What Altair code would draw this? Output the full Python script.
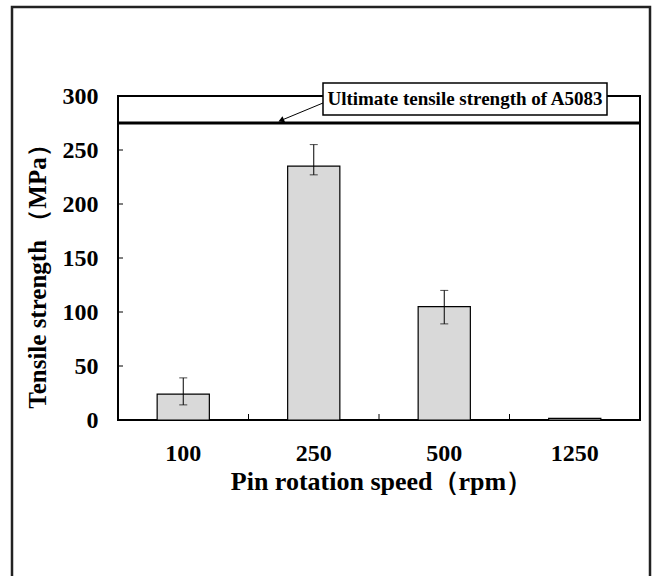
import altair as alt
import pandas as pd

# ---- data ----
speeds = ["100", "250", "500", "1250"]
strength = [24, 235, 105, 1.5]
err_low = [14, 227, 89, 1.5]
err_high = [39, 255, 120, 1.5]
uts_value = [275]
y_ticks = [0, 50, 100, 150, 200, 250, 300]
annotation_text = ["Ultimate tensile strength of A5083"]

df = pd.DataFrame({"speed": speeds, "strength": strength,
                   "lo": err_low, "hi": err_high})
df_err = df[df["hi"] > df["lo"]]
uts_df = pd.DataFrame({"uts": uts_value})
tick_df = pd.DataFrame({"t": y_ticks[1:-1]})
xb_df = pd.DataFrame({"speed": speeds[1:]})   # inner tick left of each category
ann_df = pd.DataFrame({"label": annotation_text})

W, H = 522, 324
STEP = W / 4.0
FONT = "Liberation Serif"

xscale = alt.Scale(domain=speeds, paddingInner=0.6, paddingOuter=0.3)
yscale = alt.Scale(domain=[0, 300], nice=False, zero=True)

x_axis = alt.Axis(orient="bottom", title="Pin rotation speed（rpm）",
                  labelAngle=0, ticks=False, domain=False,
                  labelFont=FONT, labelFontSize=24, labelFontWeight="bold",
                  labelColor="black", labelBaseline="alphabetic",
                  labelPadding=40,
                  titleFont=FONT, titleFontSize=26, titleFontWeight="bold",
                  titleColor="black", titleX=263, titleY=69,
                  titleBaseline="alphabetic", titleAlign="center")
x_main = alt.X("speed:N", scale=xscale, sort=speeds, axis=x_axis)

y_axis = alt.Axis(values=y_ticks, ticks=False, domain=False, grid=False,
                  title="Tensile strength （MPa）",
                  labelFont=FONT, labelFontSize=24, labelFontWeight="bold",
                  labelColor="black", labelPadding=20,
                  titleFont=FONT, titleFontSize=25, titleFontWeight="bold",
                  titleColor="black", titleX=-73, titleY=174,
                  titleAngle=270, titleBaseline="alphabetic",
                  titleAlign="center")
y_main = alt.Y("strength:Q", scale=yscale, axis=y_axis)

frame = alt.Chart(uts_df).mark_rect(fill=None, stroke="black", strokeWidth=2).encode(
    x=alt.value(0), x2=alt.value(W), y=alt.value(0), y2=alt.value(H))

bars = alt.Chart(df).mark_bar(fill="#d9d9d9", stroke="black", strokeWidth=1.2).encode(
    x=x_main, y=y_main)

err = alt.Chart(df_err).mark_rule(color="black", strokeWidth=1).encode(
    x=x_main, y=alt.Y("lo:Q", scale=yscale, axis=y_axis), y2="hi:Q")

caps_lo = alt.Chart(df_err).mark_tick(color="black", size=8, thickness=1).encode(
    x=x_main, y=alt.Y("lo:Q", scale=yscale, axis=y_axis))
caps_hi = alt.Chart(df_err).mark_tick(color="black", size=8, thickness=1).encode(
    x=x_main, y=alt.Y("hi:Q", scale=yscale, axis=y_axis))

yticks = alt.Chart(tick_df).mark_rule(color="black", strokeWidth=1).encode(
    x=alt.value(0), x2=alt.value(5), y=alt.Y("t:Q", scale=yscale, axis=y_axis))

xticks = alt.Chart(xb_df).mark_rule(color="black", strokeWidth=1,
                                    xOffset=-STEP / 2).encode(
    x=x_main, y=alt.value(H - 6), y2=alt.value(H))

uts_line = alt.Chart(uts_df).mark_rule(color="black", strokeWidth=3).encode(
    y=alt.Y("uts:Q", scale=yscale, axis=y_axis))

box = alt.Chart(ann_df).mark_rect(fill="white", stroke="black", strokeWidth=1.5).encode(
    x=alt.value(205), x2=alt.value(489), y=alt.value(-13), y2=alt.value(19))

box_text = alt.Chart(ann_df).mark_text(font=FONT, fontSize=19, fontWeight="bold",
                                       color="black", align="center",
                                       baseline="middle").encode(
    x=alt.value(347), y=alt.value(3), text="label:N")

arrow_line = alt.Chart(ann_df).mark_rule(color="black", strokeWidth=1).encode(
    x=alt.value(205), x2=alt.value(164), y=alt.value(7), y2=alt.value(24))

arrow_head = alt.Chart(ann_df).mark_point(shape="triangle", filled=True, color="black",
                                          size=45, angle=247, opacity=1).encode(
    x=alt.value(164), y=alt.value(24))

outer = alt.Chart(ann_df).mark_rect(fill=None, stroke="#222222", strokeWidth=2.5).encode(
    x=alt.value(-106), x2=alt.value(532), y=alt.value(-89), y2=alt.value(500))

chart = alt.layer(
    frame, bars, err, caps_lo, caps_hi, yticks, xticks, uts_line,
    box, box_text, arrow_line, arrow_head, outer
).properties(
    width=W, height=H,
    autosize=alt.AutoSizeParams(type="none"),
    padding={"left": 118, "top": 96, "right": 13, "bottom": 156},
    background="white",
).configure_view(stroke=None)

chart.save("out.html", embed_options={"renderer": "svg", "actions": False})
